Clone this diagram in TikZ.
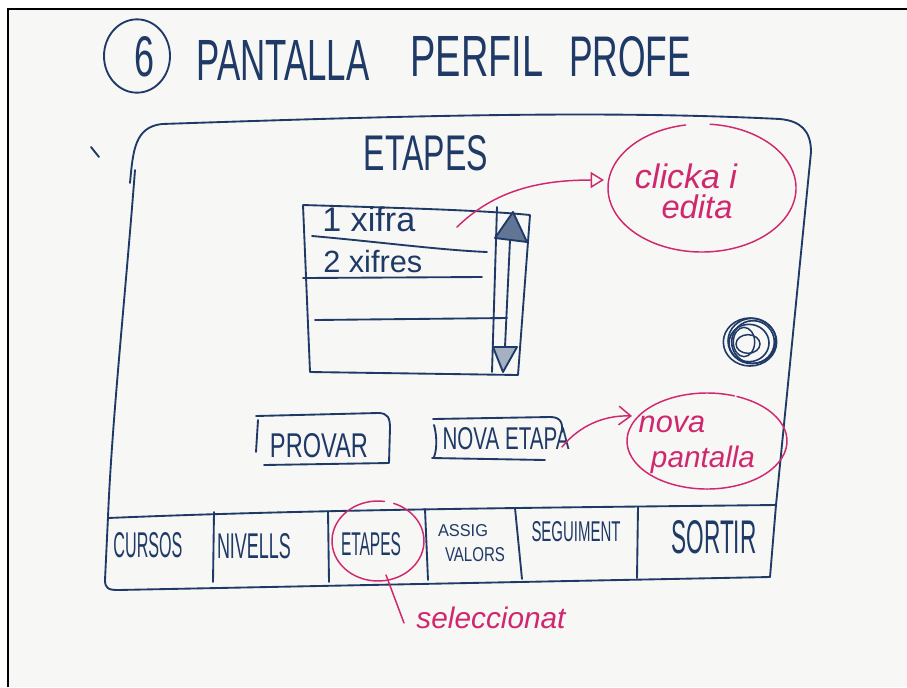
\documentclass[tikz,border=0pt]{standalone}
\usepackage{fontspec}
\setmainfont{Liberation Sans}
\usetikzlibrary{arrows.meta}
\definecolor{ink}{HTML}{1F3A66}
\definecolor{pen}{HTML}{D0286E}
\definecolor{paper}{HTML}{F7F7F5}
% text squeezed into a box of given width and height (pt)
\newcommand\hwbox[3]{\resizebox{#1pt}{#2pt}{#3}}
% text scaled to a given width (pt)
\newcommand\hwwide[2]{\resizebox{#1pt}{!}{#2}}

\begin{document}
\begin{tikzpicture}[x=0.75pt,y=-0.75pt,
  inkline/.style={draw=ink,line width=1.4pt,line cap=round,line join=round},
  penline/.style={draw=pen,line width=1.1pt,line cap=round,line join=round},
  inktext/.style={text=ink,inner sep=0pt},
  pentext/.style={text=pen,inner sep=0pt,font=\itshape}]
\useasboundingbox (0,0) rectangle (907,687);
\fill[white] (0,0) rectangle (907,687);
\fill[paper] (8,9) rectangle (907,687);
\draw[black,line width=1.1pt] (8,687) -- (8,9) -- (907,9);

% ---- title ----
\coordinate (numc) at (137,56);
\draw[inkline] (numc) ellipse [x radius=24.75pt, y radius=27.5pt];
\node[inktext] (num) at (144,57) {\hwbox{15}{30}{6}};
\node[inktext] (t1) at (283,60) {\hwbox{129.75}{30}{PANTALLA}};
\node[inktext] (t2) at (477,56) {\hwbox{99.75}{30}{PERFIL}};
\node[inktext] (t3) at (630,57) {\hwbox{91.5}{30}{PROFE}};

% ---- screen frame ----
\draw[inkline] (91,147) -- (99,157);
\draw[inkline] (130,183) .. controls (133,150) and (135,127) .. (162,124)
  .. controls (400,116) and (600,110) .. (780,119)
  .. controls (800,121) and (811,130) .. (811,152) -- (776,505);
\draw[inkline] (135,170) .. controls (125,300) and (112,420) .. (108,517)
  -- (105,580) .. controls (105,588) and (108,590) .. (118,590)
  -- (770,577) -- (776,505);
% bottom tab bar
\draw[inkline] (108,518) .. controls (300,510) and (500,508) .. (776,505);
\foreach \xa/\ya/\xb/\yb in {214/512/213/582, 328/511/329/582, 425/509/428/580,
                             515/508/522/579, 638/507/637/578}
  \draw[inkline] (\xa,\ya) -- (\xb,\yb);

\node[inktext] (tab1) at (148,545) {\hwbox{51.75}{18.75}{CURSOS}};
\node[inktext] (tab2) at (254,546) {\hwbox{55.5}{18.75}{NIVELLS}};
\node[inktext] (tab3) at (371,544) {\hwbox{45}{17.25}{ETAPES}};
\node[inktext] (tab4a) at (463,531) {\hwbox{37.5}{9}{ASSIG}};
\node[inktext] (tab4b) at (475,555) {\hwbox{45}{10.5}{VALORS}};
\node[inktext] (tab5) at (576,532) {\hwbox{66.75}{15}{SEGUIMENT}};
\node[inktext] (tab6) at (714,537) {\hwbox{63.75}{24.75}{SORTIR}};

% ---- list of stages ----
\node[inktext] (head) at (426,153) {\hwbox{93}{26.25}{ETAPES}};
\draw[inkline] (303,205) .. controls (400,208) and (480,210) .. (530,215)
  -- (518,375) -- (310,372) -- (303,205);
\draw[inkline] (497,207) -- (492,372);
\draw[inkline] (510,240) -- (505,347);
\draw[inkline,fill=ink!70] (513,212) -- (495,238) -- (527,242) -- cycle;
\draw[inkline,fill=ink!40] (493,347) -- (517,347) -- (503,372) -- cycle;
\draw[inkline] (312,236) .. controls (380,242) and (440,250) .. (487,252);
\draw[inkline] (303,278) -- (482,277);
\draw[inkline] (315,320) -- (507,318);
\node[inktext,anchor=west] (row1) at (322,219) {\hwwide{69.75}{1 xifra}};
\node[inktext,anchor=west] (row2) at (323,262) {\hwwide{74.25}{2 xifres}};

% ---- buttons ----
\draw[inkline] (258,420) -- (256,452);
\draw[inkline] (256,416) -- (378,413) .. controls (388,413) and (390,418) .. (390,428)
  -- (389,463) -- (264,465);
\node[inktext] (btn1) at (319,446) {\hwbox{73.5}{18}{PROVAR}};
\draw[inkline] (434,425) .. controls (438,440) and (436,452) .. (434,457);
\draw[inkline] (433,419) -- (550,417) .. controls (560,417) and (563,422) .. (562,432);
\draw[inkline] (432,458) -- (545,460);
\node[inktext] (btn2) at (506,439) {\hwbox{95.25}{16.5}{NOVA ETAPA}};

% ---- settings knob ----
\foreach \dx/\dy/\rx/\ry in {0/0/20/18, 2/-1/18/17, -1/1/15/14, 3/0/16/16}
  \draw[ink,line width=1.2pt] (750+\dx,342+\dy) ellipse [x radius=\rx pt, y radius=\ry pt];
\draw[ink,line width=1.1pt] (744,342) ellipse [x radius=8pt, y radius=11pt];
\draw[ink,line width=1.1pt] (748,344) ellipse [x radius=9pt, y radius=7pt];

% ---- annotations ----
\coordinate (cc) at (702,188);
\draw[penline] (cc) ++(100:70.5pt and 48pt)
  arc[start angle=100, end angle=445, x radius=70.5pt, y radius=48pt];
\node[pentext] (note1a) at (686,176) {\hwwide{76.5}{clicka i}};
\node[pentext] (note1b) at (697,207) {\hwwide{53.25}{edita}};
\coordinate (a1s) at (457,227);
\coordinate (a1e) at (604,180);
\draw[penline,-{Triangle[open,length=10pt,width=12pt]}] (a1s)
  .. controls (490,195) and (530,180) .. (a1e);

\coordinate (nc) at (707,441);
\draw[penline] (nc) ++(70:60pt and 36pt)
  arc[start angle=70, end angle=428, x radius=60pt, y radius=36pt];
\node[pentext] (note2a) at (672,424) {\hwwide{50}{nova}};
\node[pentext] (note2b) at (703,460) {\hwwide{78}{pantalla}};
\coordinate (a2s) at (562,447);
\coordinate (a2e) at (632,416);
\draw[penline,-{Straight Barb[length=9pt,width=14pt]}] (a2s)
  .. controls (580,425) and (605,415) .. (a2e);

\coordinate (sc) at (378,541);
\draw[penline] (sc) ++(82:34.5pt and 30pt)
  arc[start angle=82, end angle=430, x radius=34.5pt, y radius=30pt];
\coordinate (s1) at (386,575);
\coordinate (s2) at (404,623);
\draw[penline] (s1) -- (s2);
\node[pentext] (note3) at (491,618) {\hwwide{111.75}{seleccionat}};
\end{tikzpicture}
\end{document}
